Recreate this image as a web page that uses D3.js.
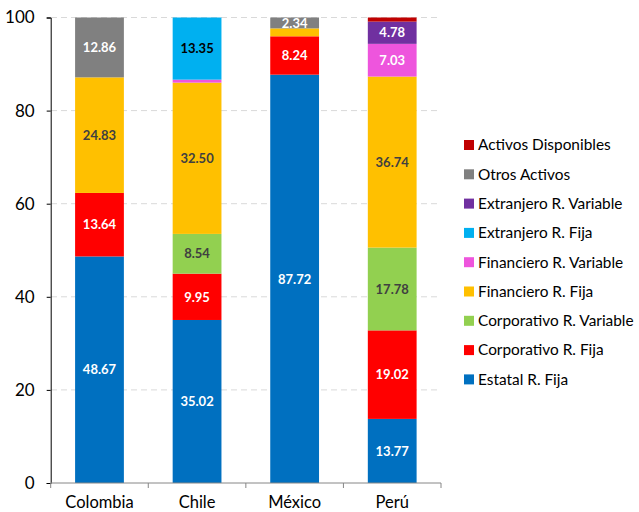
<!DOCTYPE html>
<html><head><meta charset="utf-8">
<script src="https://cdn.jsdelivr.net/npm/d3@7"></script>
<style>
body{margin:0;background:#fff;}
text{font-family:Lato,Carlito,Calibri,"Liberation Sans",Arial,sans-serif;}
</style></head>
<body><svg id="c" width="639" height="512"></svg>
<script>
const categories = ["Colombia","Chile","México","Perú"];
const seriesNames = ["Estatal R. Fija","Corporativo R. Fija","Corporativo R. Variable","Financiero R. Fija","Financiero R. Variable","Extranjero R. Fija","Extranjero R. Variable","Otros Activos","Activos Disponibles"];
const seriesColors = ["#0070C0","#FF0000","#92D050","#FFC000","#EE55DD","#00B0F0","#7030A0","#808080","#C00000"];
const labelColors = ["#fff","#fff","#404040","#404040","#fff","#000","#fff","#fff","#fff"];
const estatal = [48.67,35.02,87.72,13.77];
const corpFija = [13.64,9.95,8.24,19.02];
const corpVar = [0,8.54,0,17.78];
const finFija = [24.83,32.50,1.70,36.74];
const finVar = [0,0.64,0,7.03];
const extFija = [0,13.35,0,0];
const extVar = [0,0,0,4.78];
const otros = [12.86,0,2.34,0];
const disponibles = [0,0,0,0.88];
const yTicks = [0,20,40,60,80,100];
const values = [estatal,corpFija,corpVar,finFija,finVar,extFija,extVar,otros,disponibles];
const FONT = "Lato,Carlito,Calibri,'Liberation Sans',Arial,sans-serif";

const svg = d3.select("#c");
const x = d3.scaleBand().domain(categories).range([50.7,441]).paddingInner(0.5).paddingOuter(0.25);
const y = d3.scaleLinear().domain([0,100]).range([483,17.5]);

// gridlines
svg.append("g").selectAll("line").data(yTicks.filter(d=>d>0)).join("line")
  .attr("x1",51).attr("x2",441).attr("y1",d=>y(d)).attr("y2",d=>y(d))
  .attr("stroke","#D9D9D9").attr("stroke-width",1).attr("stroke-dasharray","6,4");

// stacked bars
const rows = categories.map((c,i)=>{const o={cat:c}; seriesNames.forEach((s,j)=>o[s]=values[j][i]); return o;});
const stack = d3.stack().keys(seriesNames)(rows);
stack.forEach((layer,j)=>{
  svg.append("g").selectAll("rect").data(layer.filter(d=>d[1]-d[0]>0)).join("rect")
    .attr("x",d=>x(d.data.cat)).attr("width",x.bandwidth())
    .attr("y",d=>y(d[1])).attr("height",d=>y(d[0])-y(d[1]))
    .attr("fill",seriesColors[j]);
});
stack.forEach((layer,j)=>{
  svg.append("g").selectAll("text").data(layer.filter(d=>d[1]-d[0]>2)).join("text")
    .attr("x",d=>x(d.data.cat)+x.bandwidth()/2)
    .attr("y",d=>y((d[0]+d[1])/2)).attr("dy","0.36em")
    .attr("text-anchor","middle").attr("font-size",13).attr("font-weight","bold")
    .attr("fill",labelColors[j]).text(d=>(d[1]-d[0]).toFixed(2));
});

// y axis
const ya = svg.append("g").attr("transform","translate(50.7,0)")
  .call(d3.axisLeft(y).tickValues(yTicks).tickSize(4).tickPadding(12));
ya.select(".domain").attr("stroke","#000");
ya.selectAll(".tick line").attr("stroke","#000");
ya.selectAll("text").attr("font-size",17).attr("fill","#000").style("font-family",FONT);

// x axis
const xa = svg.append("g").attr("transform","translate(0,483)")
  .call(d3.axisBottom(x).tickSize(0).tickPadding(0));
xa.select(".domain").attr("stroke","#868686").attr("d","M50.7,0H441");
xa.selectAll("text").attr("font-size",16.5).attr("fill","#000").attr("y",19.5).attr("dy","0.35em").style("font-family",FONT);
svg.append("g").selectAll("line").data(d3.range(categories.length+1)).join("line")
  .attr("x1",i=>50.7+i*x.step()).attr("x2",i=>50.7+i*x.step())
  .attr("y1",483).attr("y2",488).attr("stroke","#868686");

// legend
const legendOrder = seriesNames.map((s,i)=>i).reverse();
const lg = svg.append("g");
legendOrder.forEach((j,k)=>{
  const yy = 145 + k*29.3;
  lg.append("rect").attr("x",464).attr("y",yy-5).attr("width",10).attr("height",10).attr("fill",seriesColors[j]);
  lg.append("text").attr("x",478).attr("y",yy).attr("dy","0.35em").attr("font-size",15.4).attr("fill","#000").text(seriesNames[j]);
});
</script></body></html>
